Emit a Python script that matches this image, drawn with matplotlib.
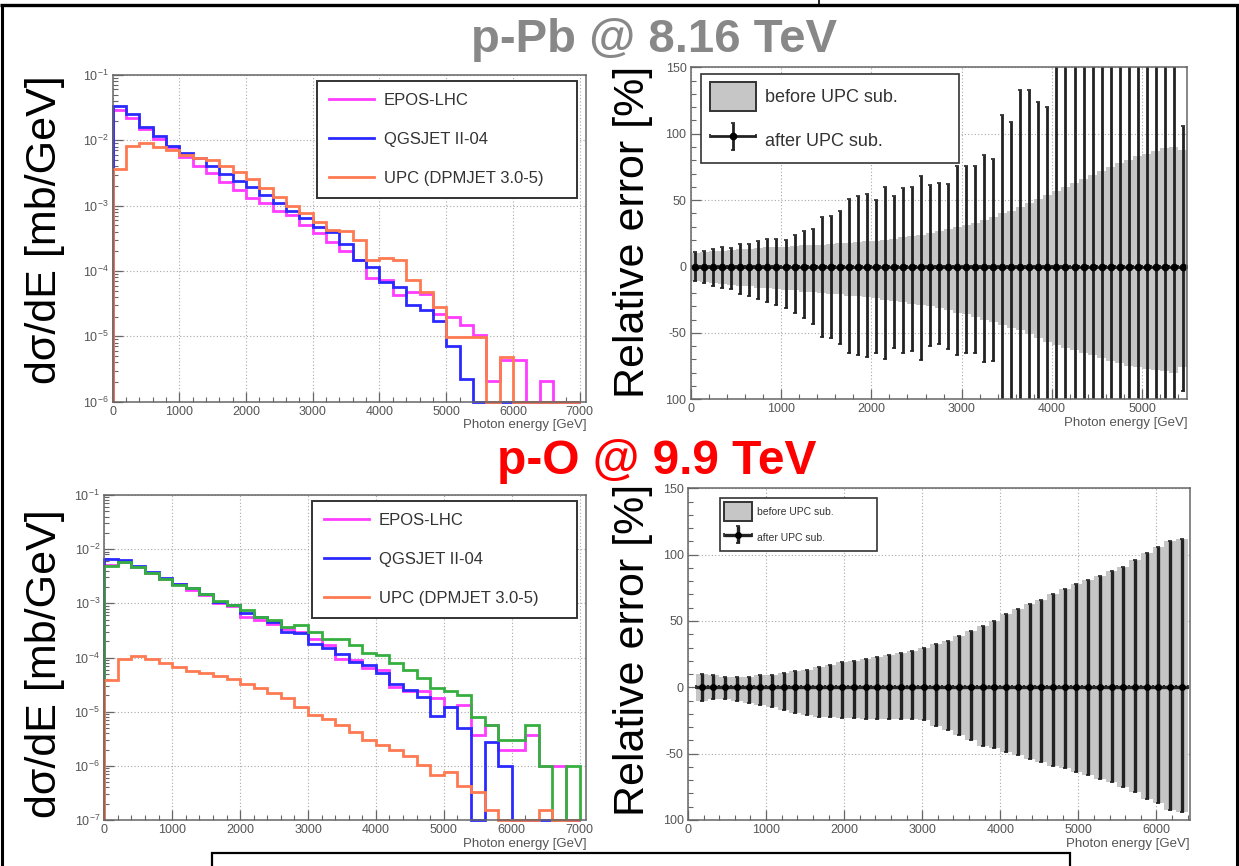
import numpy as np
import matplotlib
matplotlib.use("Agg")
import matplotlib.pyplot as plt
from matplotlib.lines import Line2D
from matplotlib.patches import Patch, Rectangle
from matplotlib.container import ErrorbarContainer
from matplotlib.legend_handler import HandlerErrorbar
from matplotlib.ticker import (LogLocator, MultipleLocator, FixedLocator,
                               FixedFormatter, NullFormatter)

plt.rcParams['font.family'] = ['Liberation Sans', 'DejaVu Sans']
plt.rcParams['mathtext.fontset'] = 'custom'
plt.rcParams['mathtext.rm'] = 'Liberation Sans'
plt.rcParams['mathtext.it'] = 'Liberation Sans:italic'
plt.rcParams['mathtext.bf'] = 'Liberation Sans:bold'

# ---------------------------------------------------------------- data
# photon energy spectra, 200 GeV bins from 0 to 7000 GeV  [mb/GeV]
spec_edges = np.arange(0, 7001, 200)

ppb_epos = [0.029, 0.022, 0.015, 0.0105, 0.0078, 0.0055, 0.0041, 0.0032, 0.0023, 0.00175,
            0.0013, 0.0011, 8.4e-4, 7.2e-4, 5.0e-4, 3.8e-4, 2.8e-4, 2.0e-4, 1.5e-4, 7.8e-5,
            7.2e-5, 4.3e-5, 4.8e-5, 4.5e-5, 2.2e-5, 2.0e-5, 1.5e-5, 1.04e-5, 2.1e-6, 4.3e-6,
            4.3e-6, 0, 2.1e-6, 0, 0]
ppb_qgsjet = [0.034, 0.025, 0.016, 0.0116, 0.0082, 0.0065, 0.0053, 0.0041, 0.0031, 0.0024,
              0.0019, 0.00145, 0.0011, 8.4e-4, 6.4e-4, 4.8e-4, 3.9e-4, 2.6e-4, 1.47e-4, 1.17e-4,
              6.9e-5, 5.6e-5, 3.0e-5, 2.5e-5, 1.74e-5, 7.1e-6, 2.2e-6, 0, 0, 0,
              0, 0, 0, 0, 0]
ppb_upc = [3.7e-3, 8.2e-3, 9.0e-3, 7.8e-3, 7.1e-3, 6.0e-3, 5.3e-3, 5.0e-3, 4.0e-3, 3.3e-3,
           2.6e-3, 1.84e-3, 1.37e-3, 1.0e-3, 7.6e-4, 5.7e-4, 4.2e-4, 4.1e-4, 3.0e-4, 1.5e-4,
           1.6e-4, 1.47e-4, 7.3e-5, 4.7e-5, 2.8e-5, 9.7e-6, 9.7e-6, 9.7e-6, 0, 4.9e-6,
           0, 0, 0, 0, 0]

po_epos = [0.0051, 0.0058, 0.0046, 0.0036, 0.0028, 0.0023, 0.0018, 0.0014, 0.0010, 9.0e-4,
           5.7e-4, 4.9e-4, 4.2e-4, 3.3e-4, 3.0e-4, 2.2e-4, 1.7e-4, 9.5e-5, 8.9e-5, 6.3e-5,
           5.9e-5, 2.9e-5, 2.4e-5, 2.4e-5, 1.8e-5, 1.23e-5, 1.3e-5, 3.7e-6, 5.6e-6, 1.95e-6,
           1.95e-6, 3.7e-6, 1.0e-6, 1.0e-6, 0]
po_qgsjet = [0.0066, 0.0063, 0.0049, 0.0038, 0.0029, 0.0023, 0.0019, 0.0015, 0.00107, 9.3e-4,
             6.6e-4, 5.7e-4, 4.6e-4, 3.0e-4, 2.8e-4, 1.8e-4, 1.48e-4, 1.16e-4, 8.3e-5, 7.2e-5,
             5.1e-5, 3.3e-5, 2.5e-5, 1.9e-5, 8.3e-6, 1.23e-5, 4.9e-6, 0, 2.8e-6, 1.0e-6,
             0, 0, 0, 0, 0]
po_green = [0.0049, 0.0057, 0.0046, 0.0036, 0.0028, 0.0022, 0.0019, 0.0015, 0.0011, 9.3e-4,
            7.6e-4, 5.7e-4, 4.9e-4, 3.7e-4, 4.0e-4, 3.0e-4, 2.2e-4, 2.2e-4, 1.7e-4, 1.23e-4,
            1.1e-4, 7.8e-5, 5.9e-5, 4.2e-5, 2.7e-5, 2.4e-5, 2.05e-5, 8.1e-6, 5.6e-6, 3.0e-6,
            3.0e-6, 5.6e-6, 1.0e-6, 0, 1.0e-6]
po_upc = [3.8e-5, 9.3e-5, 1.07e-4, 9.5e-5, 7.9e-5, 6.7e-5, 5.7e-5, 5.1e-5, 4.5e-5, 4.0e-5,
          3.3e-5, 2.7e-5, 2.2e-5, 1.8e-5, 1.23e-5, 8.7e-6, 7.2e-6, 5.6e-6, 4.3e-6, 3.0e-6,
          2.4e-6, 1.95e-6, 1.5e-6, 1.05e-6, 6.8e-7, 7.8e-7, 4.2e-7, 3.3e-7, 1.5e-7, 0,
          0, 0, 1.5e-7, 0, 0]

# relative errors, p-Pb: 100 GeV bins from 0 to 5500 GeV  [%]
ppb_err_edges = np.arange(0, 5501, 100)
ppb_before_up = [10.5, 11, 11.5, 12, 12.5, 13, 13.5, 14, 14.5, 15,
                 15, 15.5, 16, 16, 16.5, 17, 17.5, 18, 18.5, 19,
                 19.5, 20, 21, 22, 23, 24, 25, 26.5, 28, 29.5,
                 31, 33, 35, 37, 40, 42, 45, 48, 51, 54,
                 57, 60, 63, 66, 69, 72, 75, 78, 80, 83,
                 85, 87, 89, 90, 88]
ppb_before_lo = [-11, -12, -12.5, -13, -14, -14.5, -15, -16, -16.5, -17,
                 -17.5, -18, -19, -19.5, -20, -20.5, -21, -22, -22.5, -23,
                 -24, -25, -26, -27, -28, -29, -30, -31, -33, -35,
                 -36, -38, -40, -42, -44, -46, -48, -51, -54, -57,
                 -59, -61, -63, -65, -67, -69, -71, -73, -75, -76,
                 -77, -78, -79, -80, -76]
ppb_after_up = [11, 12, 13, 15, 14, 17, 17, 19.5, 20.5, 21,
                20, 24, 27, 28, 37.5, 38, 42, 51, 53, 54.5,
                50, 60, 53, 59, 59.5, 68, 61, 63, 62, 76,
                76, 76, 84, 81, 114, 109, 133, 133, 124, 120,
                180, 180, 180, 180, 180, 180, 180, 180, 180, 180,
                180, 180, 180, 180, 106]
ppb_after_lo = [-11, -12.5, -14.5, -16.5, -17, -21, -22.5, -24.6, -27, -29,
                -31, -35, -39, -43.5, -53, -54, -58, -65, -67, -68.5,
                -65, -70, -61, -65, -64, -70.5, -60, -58.5, -62, -67,
                -65, -65, -72, -71, -180, -180, -180, -180, -180, -180,
                -180, -180, -180, -180, -180, -180, -180, -180, -180, -180,
                -180, -180, -180, -180, -94]

# relative errors, p-O: 150 GeV bins from 100 to 6400 GeV  [%]
po_err_edges = np.arange(100, 6401, 150)
po_err_up = [10, 9, 8, 8, 8, 9, 9, 10.5, 12, 13,
             15, 17, 19, 20, 21, 22.5, 24, 26, 27.5, 30,
             32.5, 35, 39, 42.5, 46, 50, 55, 59, 62.5, 66,
             70, 74, 77.5, 81, 84, 87.5, 91, 96, 101, 106,
             110, 112]
po_err_lo = [-10, -9, -9, -10, -12, -13, -15, -17, -19, -21,
             -22, -22.5, -23, -23, -24, -24, -24, -24, -24, -25,
             -29, -32.5, -36, -40, -44, -46, -49, -51, -54, -56,
             -59, -61, -64, -66, -69, -71, -75, -79, -84, -87.5,
             -92.5, -94]

model_labels = ['EPOS-LHC', 'QGSJET II-04', 'UPC (DPMJET 3.0-5)']
err_labels = ['before UPC sub.', 'after UPC sub.']

C_EPOS, C_QGS, C_UPC, C_GREEN = '#ff3cff', '#2a2aff', '#ff7a52', '#35b040'
C_BAND, C_BAR = '#c6c6c6', '#222222'
AX_GRAY, TXT_GRAY = '#666666', '#555555'

# ---------------------------------------------------------------- figure
W, H = 1239, 866
fig = plt.figure(figsize=(W / 100, H / 100), dpi=100)


def px_rect(l, t, r, b):
    return [l / W, 1 - b / H, (r - l) / W, (b - t) / H]


def fig_line(xs, ys, lw):
    fig.add_artist(Line2D([x / W for x in xs], [1 - y / H for y in ys],
                          transform=fig.transFigure, color='black', lw=lw,
                          solid_capstyle='butt'))


def root_axes(rect, xmax):
    ax = fig.add_axes(rect)
    ax.set_xlim(0, xmax)
    for sp in ax.spines.values():
        sp.set_color(AX_GRAY)
        sp.set_linewidth(1.1)
    ax.xaxis.set_major_locator(MultipleLocator(1000))
    ax.xaxis.set_minor_locator(MultipleLocator(200))
    ax.tick_params(which='both', direction='in', top=False, right=False,
                   color=AX_GRAY, labelcolor=TXT_GRAY, labelsize=9, pad=3)
    ax.tick_params(which='major', length=7, width=0.9)
    ax.tick_params(which='minor', length=3.5, width=0.8)
    ax.grid(True, which='major', ls=(0, (1, 2)), color='#a8a8a8', lw=0.8)
    ax.set_axisbelow(True)
    ax.set_xlabel('Photon energy [GeV]', loc='right', fontsize=9.5,
                  color=TXT_GRAY, labelpad=1)
    return ax


def spectrum_panel(rect, ymin, series, colors):
    ax = root_axes(rect, 7100)
    ax.set_yscale('log')
    ax.set_ylim(ymin, 0.1)
    ax.yaxis.set_major_locator(LogLocator(base=10, numticks=12))
    ax.yaxis.set_minor_locator(LogLocator(base=10, subs=np.arange(2, 10), numticks=12))
    ax.yaxis.set_minor_formatter(NullFormatter())
    for vals, col in zip(series, colors):
        v = np.clip(np.asarray(vals, dtype=float), ymin, None)
        ax.stairs(v, spec_edges, baseline=ymin, color=col, lw=2.0, clip_on=False)
    handles = [Line2D([], [], color=c, lw=2.0) for c in (C_EPOS, C_QGS, C_UPC)]
    leg = ax.legend(handles, model_labels, loc='upper left', mode='expand',
                    bbox_to_anchor=(0.431, 0.63, 0.549, 0.353), borderaxespad=0,
                    fontsize=12, handlelength=2.7, handletextpad=0.6,
                    labelspacing=1.45, borderpad=0.72, fancybox=False,
                    framealpha=1, edgecolor='#333333')
    leg.get_frame().set_linewidth(1.4)
    for t in leg.get_texts():
        t.set_color('#333333')
    return ax


def error_panel(rect, xmax, edges, band_up, band_lo, bar_up, bar_lo,
                leg_box, leg_font, leg_hl, leg_hh, leg_ls, leg_bp,
                xerr_size, yerr_size, ms, elw):
    ax = root_axes(rect, xmax)
    ax.set_ylim(-100, 150)
    ax.yaxis.set_major_locator(FixedLocator([-100, -50, 0, 50, 100, 150]))
    ax.yaxis.set_major_formatter(FixedFormatter(['100', '-50', '0', '50', '100', '150']))
    ax.yaxis.set_minor_locator(MultipleLocator(10))
    centers = 0.5 * (edges[:-1] + edges[1:])
    half = 0.5 * (edges[1] - edges[0])
    ax.stairs(band_up, edges, baseline=band_lo, fill=True, color=C_BAND, lw=0)
    eb = ax.errorbar(centers, np.zeros_like(centers),
                     yerr=[-np.asarray(bar_lo, float), np.asarray(bar_up, float)],
                     xerr=half, fmt='o', ms=ms, color='black', ecolor=C_BAR,
                     elinewidth=elw, capsize=1.5, capthick=1.2)
    band_handle = Patch(facecolor=C_BAND, edgecolor='#333333', lw=1.4)
    leg = ax.legend([band_handle, eb], err_labels, loc='upper left', mode='expand',
                    bbox_to_anchor=leg_box, borderaxespad=0, fontsize=leg_font,
                    handlelength=leg_hl, handleheight=leg_hh, handletextpad=0.45,
                    labelspacing=leg_ls, borderpad=leg_bp, fancybox=False,
                    framealpha=1, edgecolor='#333333',
                    handler_map={ErrorbarContainer: HandlerErrorbar(
                        xerr_size=xerr_size, yerr_size=yerr_size)})
    leg.get_frame().set_linewidth(1.2)
    for t in leg.get_texts():
        t.set_color('#333333')
    return ax


# p-Pb panels
spectrum_panel(px_rect(112.5, 75, 586.4, 401.7), 1e-6,
               [ppb_epos, ppb_qgsjet, ppb_upc], [C_EPOS, C_QGS, C_UPC])
error_panel(px_rect(690.7, 67.3, 1187.4, 399.3), 5500, ppb_err_edges,
            ppb_before_up, ppb_before_lo, ppb_after_up, ppb_after_lo,
            (0.0215, 0.713, 0.5185, 0.267), 13, 2.6, 2.05, 0.88, 0.45,
            1.3, 0.75, 4.5, 2.0)

# p-O panels
spectrum_panel(px_rect(104.3, 495, 586.4, 820), 1e-7,
               [po_epos, po_qgsjet, po_green, po_upc], [C_EPOS, C_QGS, C_GREEN, C_UPC])
error_panel(px_rect(688, 488.3, 1190, 820), 6430, po_err_edges,
            po_err_up, po_err_lo, po_err_up, po_err_lo,
            (0.0633, 0.809, 0.3127, 0.161), 7.5, 2.7, 2.3, 0.75, 0.4,
            1.37, 0.85, 4.0, 2.4)

# axis titles and headings
ylab = dict(rotation=90, fontsize=31, ha='center', va='center', color='black')
fig.text(45 / W, 1 - 230 / H, 'dσ/dE [mb/GeV]', **ylab)
fig.text(45 / W, 1 - 664 / H, 'dσ/dE [mb/GeV]', **ylab)
fig.text(633 / W, 1 - 232 / H, 'Relative error [%]', **ylab)
fig.text(633 / W, 1 - 650 / H, 'Relative error [%]', **ylab)

fig.text(654 / W, 1 - 52 / H, 'p-Pb @ 8.16 TeV', fontsize=34, weight='bold',
         color='#888888', ha='center', va='baseline')
fig.text(657 / W, 1 - 474 / H, 'p-O @ 9.9 TeV', fontsize=34.5, weight='bold',
         color='#ff0000', ha='center', va='baseline')

# slide frame
fig_line([0, W], [5, 5], 2.4)
fig_line([2, 2], [5, H], 2.2)
fig_line([1237, 1237], [5, H], 2.2)
fig_line([819, 819], [0, 5], 1.2)
fig.add_artist(Rectangle((212 / W, 1 - 880 / H), (1070 - 212) / W, 27 / H,
                         transform=fig.transFigure, fill=False, ec='black', lw=1.6))

fig.savefig('out.png', dpi=100)
